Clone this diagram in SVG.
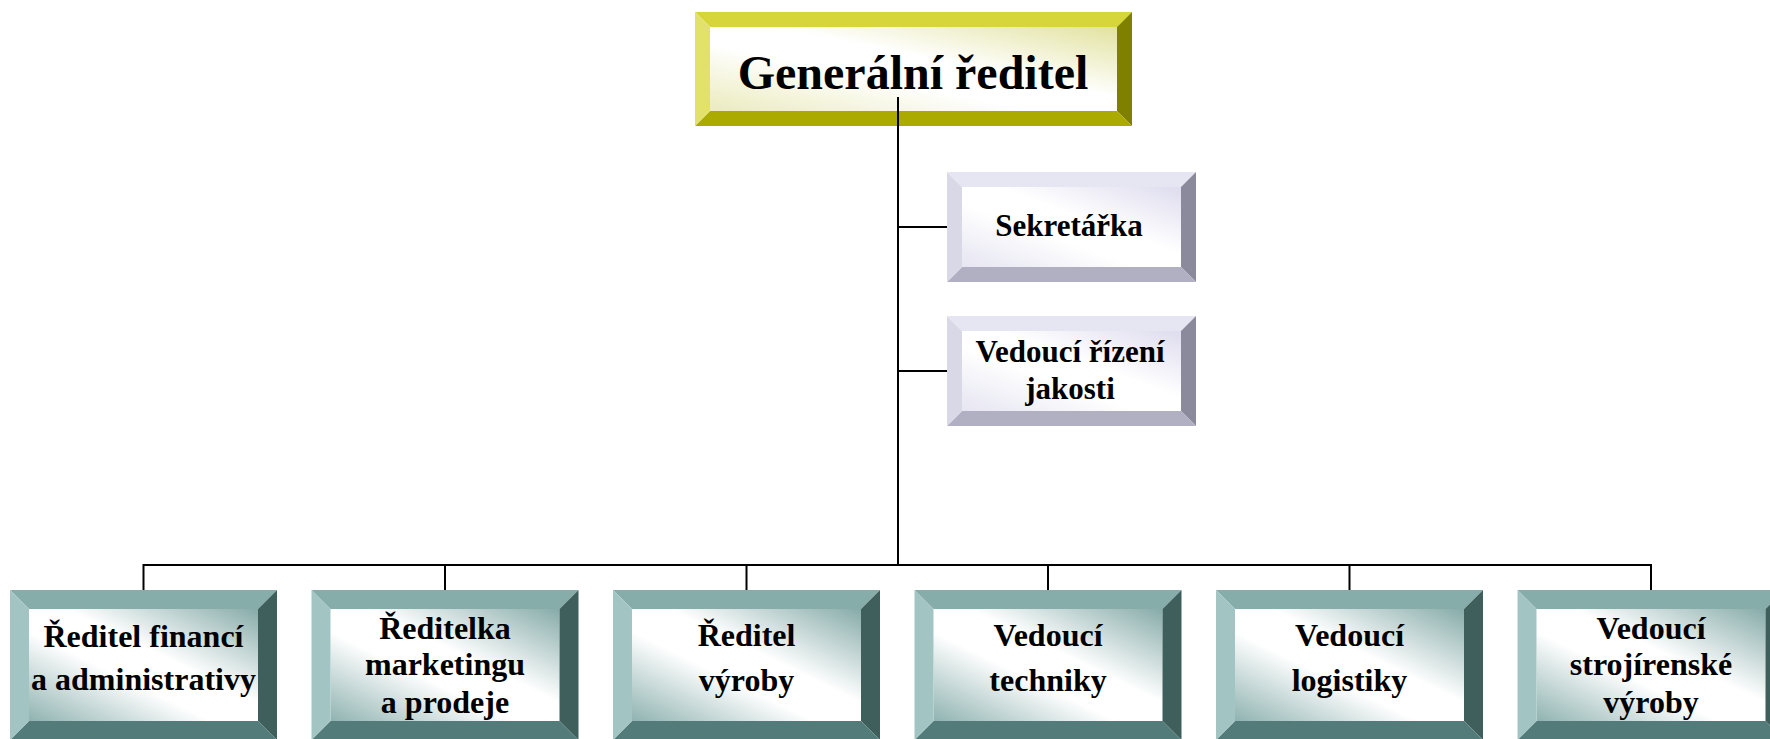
<svg xmlns="http://www.w3.org/2000/svg" xmlns:xlink="http://www.w3.org/1999/xlink" width="1770" height="739" viewBox="0 0 1770 739">
<style>
  text { font-family: "Liberation Serif", "Times New Roman", serif; font-weight: bold; fill: #000; text-anchor: middle; }
  .big { font-size: 48px; }
  .mid { font-size: 31px; }
  .sm { font-size: 32px; }
  .conn { stroke: #000; stroke-width: 2; fill: none; }
</style>
<defs>
  <linearGradient id="gTeal" x1="1" y1="0" x2="0" y2="1">
    <stop offset="0" stop-color="#86aba9"/>
    <stop offset="0.42" stop-color="#ffffff"/>
    <stop offset="0.6" stop-color="#ffffff"/>
    <stop offset="1" stop-color="#8fb3b1"/>
  </linearGradient>
  <linearGradient id="gYel" x1="1" y1="0" x2="0" y2="1">
    <stop offset="0" stop-color="#e2e2a0"/>
    <stop offset="0.42" stop-color="#ffffff"/>
    <stop offset="0.6" stop-color="#ffffff"/>
    <stop offset="1" stop-color="#ebebbd"/>
  </linearGradient>
  <linearGradient id="gLav" x1="1" y1="0" x2="0" y2="1">
    <stop offset="0" stop-color="#dedcee"/>
    <stop offset="0.42" stop-color="#ffffff"/>
    <stop offset="0.6" stop-color="#ffffff"/>
    <stop offset="1" stop-color="#e6e5f2"/>
  </linearGradient>
  <!-- teal bevel box 267x150, bevel 19 -->
  <g id="tealBox">
    <rect x="19" y="19" width="229" height="112" fill="url(#gTeal)"/>
    <polygon points="0,0 267,0 248,19 19,19" fill="#87adab"/>
    <polygon points="267,0 267,150 248,131 248,19" fill="#3f5f5d"/>
    <polygon points="0,150 267,150 248,131 19,131" fill="#537b79"/>
    <polygon points="0,0 19,19 19,131 0,150" fill="#a2c5c3"/>
  </g>
  <!-- lavender bevel box 249x110, bevel 15 -->
  <g id="lavBox">
    <rect x="15" y="15" width="219" height="80" fill="url(#gLav)"/>
    <polygon points="0,0 249,0 234,15 15,15" fill="#e6e5f2"/>
    <polygon points="249,0 249,110 234,95 234,15" fill="#8b8a9c"/>
    <polygon points="0,110 249,110 234,95 15,95" fill="#b1b0c2"/>
    <polygon points="0,0 15,15 15,95 0,110" fill="#d9d8e7"/>
  </g>
</defs>

<g id="node-general">
  <rect x="710" y="27" width="407" height="84" fill="url(#gYel)"/>
  <polygon points="695,12 1132,12 1117,27 710,27" fill="#d6d63a"/>
  <polygon points="1132,12 1132,126 1117,111 1117,27" fill="#808000"/>
  <polygon points="695,126 1132,126 1117,111 710,111" fill="#aaaa00"/>
  <polygon points="695,12 710,27 710,111 695,126" fill="#e2e26a"/>
  <text class="big" x="913" y="89">Generální ředitel</text>
</g>

<g id="node-sekretarka">
  <use xlink:href="#lavBox" x="947" y="172"/>
  <text class="mid" x="1069" y="236">Sekretářka</text>
</g>

<g id="node-jakost">
  <use xlink:href="#lavBox" x="947" y="316"/>
  <text class="mid" x="1070" y="362">Vedoucí řízení</text>
  <text class="mid" x="1070" y="399">jakosti</text>
</g>

<g id="node-financni">
  <use xlink:href="#tealBox" x="10" y="590"/>
  <text class="sm" x="143.5" y="647">Ředitel financí</text>
  <text class="sm" x="143.5" y="690">a administrativy</text>
</g>

<g id="node-marketing">
  <use xlink:href="#tealBox" x="311.5" y="590"/>
  <text class="sm" x="445" y="639">Ředitelka</text>
  <text class="sm" x="445" y="675">marketingu</text>
  <text class="sm" x="445" y="713">a prodeje</text>
</g>

<g id="node-vyroba">
  <use xlink:href="#tealBox" x="613" y="590"/>
  <text class="sm" x="746.5" y="646">Ředitel</text>
  <text class="sm" x="746.5" y="691">výroby</text>
</g>

<g id="node-technika">
  <use xlink:href="#tealBox" x="914.5" y="590"/>
  <text class="sm" x="1048" y="646">Vedoucí</text>
  <text class="sm" x="1048" y="691">techniky</text>
</g>

<g id="node-logistika">
  <use xlink:href="#tealBox" x="1216" y="590"/>
  <text class="sm" x="1349.5" y="646">Vedoucí</text>
  <text class="sm" x="1349.5" y="691">logistiky</text>
</g>

<g id="node-strojirenska">
  <use xlink:href="#tealBox" x="1517.5" y="590"/>
  <text class="sm" x="1651" y="639">Vedoucí</text>
  <text class="sm" x="1651" y="675">strojírenské</text>
  <text class="sm" x="1651" y="713">výroby</text>
</g>

<g id="connectors" class="conn">
  <line x1="898" y1="97" x2="898" y2="566"/>
  <line x1="898" y1="227" x2="947" y2="227"/>
  <line x1="898" y1="371" x2="947" y2="371"/>
  <line x1="143.5" y1="565" x2="1651" y2="565"/>
  <line x1="143.5" y1="564" x2="143.5" y2="590"/>
  <line x1="445" y1="565" x2="445" y2="590"/>
  <line x1="746.5" y1="565" x2="746.5" y2="590"/>
  <line x1="1048" y1="565" x2="1048" y2="590"/>
  <line x1="1349.5" y1="565" x2="1349.5" y2="590"/>
  <line x1="1651" y1="564" x2="1651" y2="590"/>
</g>
</svg>
